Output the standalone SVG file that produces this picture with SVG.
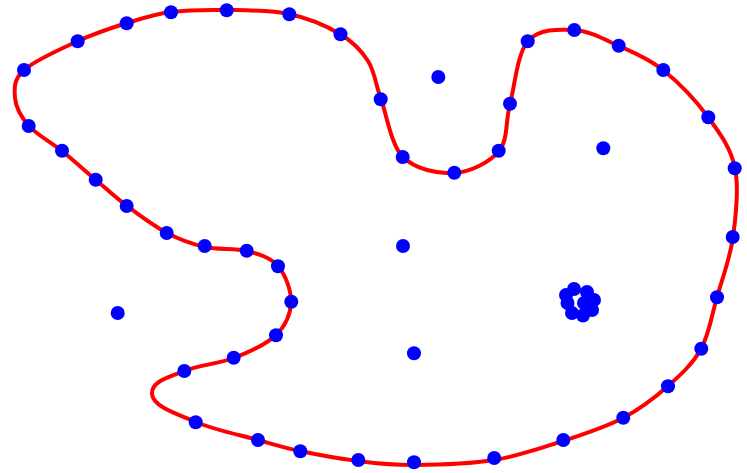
<svg xmlns="http://www.w3.org/2000/svg" width="747" height="473" viewBox="0 0 747 473">
<style>
.curve{fill:none;stroke:#ff0000;stroke-width:4;stroke-linejoin:round}
.pt{fill:#0000ff}
</style>
<rect x="0" y="0" width="747" height="473" fill="#ffffff"/>
<g id="curve">
<path class="curve" d="M24,70 C34.5,60.5 60.83,48.83 78,41 C95.17,33.17 111.5,27.83 127,23 C142.5,18.17 154.33,14.17 171,12 C187.67,9.83 207.33,9.67 227,10 C246.67,10.33 270.17,10 289,14 C307.83,18 326.83,26.17 340,34 C353.17,41.83 361.17,50.17 368,61 C374.83,71.83 375.17,83 381,99 C386.83,115 390.83,144.67 403,157 C415.17,169.33 438,174 454,173 C470,172 489.67,162.5 499,151 C508.33,139.5 505.17,122.33 510,104 C514.83,85.67 517.33,53.33 528,41 C538.67,28.67 558.83,29.17 574,30 C589.17,30.83 604.17,39.33 619,46 C633.83,52.67 648.17,58.17 663,70 C677.83,81.83 696,100.67 708,117 C720,133.33 730.83,148 735,168 C739.170,188 736,215.5 733,237 C730,258.5 722.33,278.33 717,297 C711.67,315.67 709.17,334.17 701,349 C692.83,363.83 681,374.5 668,386 C655,397.5 640.5,408.83 623,418 C605.5,427.17 584.5,434 563,441 C541.5,448 518.83,456 494,460 C469.17,464 436.67,464.83 414,465 C391.33,465.17 377,463.33 358,461 C339,458.67 316.67,454.5 300,451 C283.33,447.5 275.33,444.83 258,440 C240.67,435.17 213.67,429.67 196,422 C178.33,414.33 153,407 152,394 C151,381 170.33,377 184,371 C197.67,365 218.67,364 234,358 C249.33,352 266.5,344.33 276,335 C285.5,325.67 290.67,313.5 291,302 C291.33,290.5 285.33,274.5 278,266 C270.67,257.5 259.17,254.17 247,251 C234.83,247.83 218.33,250 205,247 C191.67,244 180,239.83 167,233 C154,226.17 138.83,214.83 127,206 C115.17,197.17 106.83,189.17 96,180 C85.17,170.83 73.17,160 62,151 C50.83,142 36.83,134.83 29,126 C21.17,117.17 15.83,107.33 15,98 C14.17,88.67 13.5,79.5 24,70 Z"/>
</g>
<g id="points">
<circle class="pt" cx="24" cy="70" r="7"/>
<circle class="pt" cx="77.7" cy="41.3" r="7"/>
<circle class="pt" cx="126.7" cy="23.3" r="7"/>
<circle class="pt" cx="171" cy="12.3" r="7"/>
<circle class="pt" cx="226.7" cy="10.3" r="7"/>
<circle class="pt" cx="289.3" cy="14.3" r="7"/>
<circle class="pt" cx="340.5" cy="34.3" r="7"/>
<circle class="pt" cx="380.7" cy="99.2" r="7"/>
<circle class="pt" cx="402.7" cy="157" r="7"/>
<circle class="pt" cx="454.3" cy="172.7" r="7"/>
<circle class="pt" cx="498.7" cy="150.7" r="7"/>
<circle class="pt" cx="510" cy="103.7" r="7"/>
<circle class="pt" cx="527.7" cy="41.3" r="7"/>
<circle class="pt" cx="574.3" cy="30" r="7"/>
<circle class="pt" cx="618.7" cy="45.7" r="7"/>
<circle class="pt" cx="663.3" cy="70" r="7"/>
<circle class="pt" cx="708.3" cy="117.3" r="7"/>
<circle class="pt" cx="734.7" cy="168.3" r="7"/>
<circle class="pt" cx="732.7" cy="237" r="7"/>
<circle class="pt" cx="717" cy="297.3" r="7"/>
<circle class="pt" cx="701.3" cy="348.7" r="7"/>
<circle class="pt" cx="668" cy="386.3" r="7"/>
<circle class="pt" cx="623.3" cy="417.7" r="7"/>
<circle class="pt" cx="563.3" cy="440" r="7"/>
<circle class="pt" cx="494.2" cy="458" r="7"/>
<circle class="pt" cx="414" cy="462.3" r="7"/>
<circle class="pt" cx="358.3" cy="460" r="7"/>
<circle class="pt" cx="300.3" cy="451.3" r="7"/>
<circle class="pt" cx="258" cy="440" r="7"/>
<circle class="pt" cx="195.7" cy="422.3" r="7"/>
<circle class="pt" cx="184.3" cy="371" r="7"/>
<circle class="pt" cx="233.7" cy="357.7" r="7"/>
<circle class="pt" cx="276" cy="335.3" r="7"/>
<circle class="pt" cx="291.3" cy="301.7" r="7"/>
<circle class="pt" cx="278" cy="266.3" r="7"/>
<circle class="pt" cx="246.7" cy="250.7" r="7"/>
<circle class="pt" cx="204.7" cy="246" r="7"/>
<circle class="pt" cx="166.7" cy="233" r="7"/>
<circle class="pt" cx="126.7" cy="206" r="7"/>
<circle class="pt" cx="95.7" cy="179.7" r="7"/>
<circle class="pt" cx="62" cy="150.7" r="7"/>
<circle class="pt" cx="28.7" cy="126" r="7"/>
<circle class="pt" cx="438.3" cy="77" r="7"/>
<circle class="pt" cx="603.3" cy="148.3" r="7"/>
<circle class="pt" cx="403" cy="246" r="7"/>
<circle class="pt" cx="414" cy="353.3" r="7"/>
<circle class="pt" cx="117.7" cy="313" r="7"/>
</g>
<g id="cluster">
<circle class="pt" cx="574" cy="289" r="7"/>
<circle class="pt" cx="587" cy="292" r="7"/>
<circle class="pt" cx="594" cy="300" r="7"/>
<circle class="pt" cx="592" cy="310" r="7"/>
<circle class="pt" cx="583" cy="315.5" r="7"/>
<circle class="pt" cx="572" cy="313" r="7"/>
<circle class="pt" cx="567.5" cy="303" r="7"/>
<circle class="pt" cx="566" cy="295" r="7"/>
<circle class="pt" cx="584" cy="303" r="7"/>
</g>
</svg>
